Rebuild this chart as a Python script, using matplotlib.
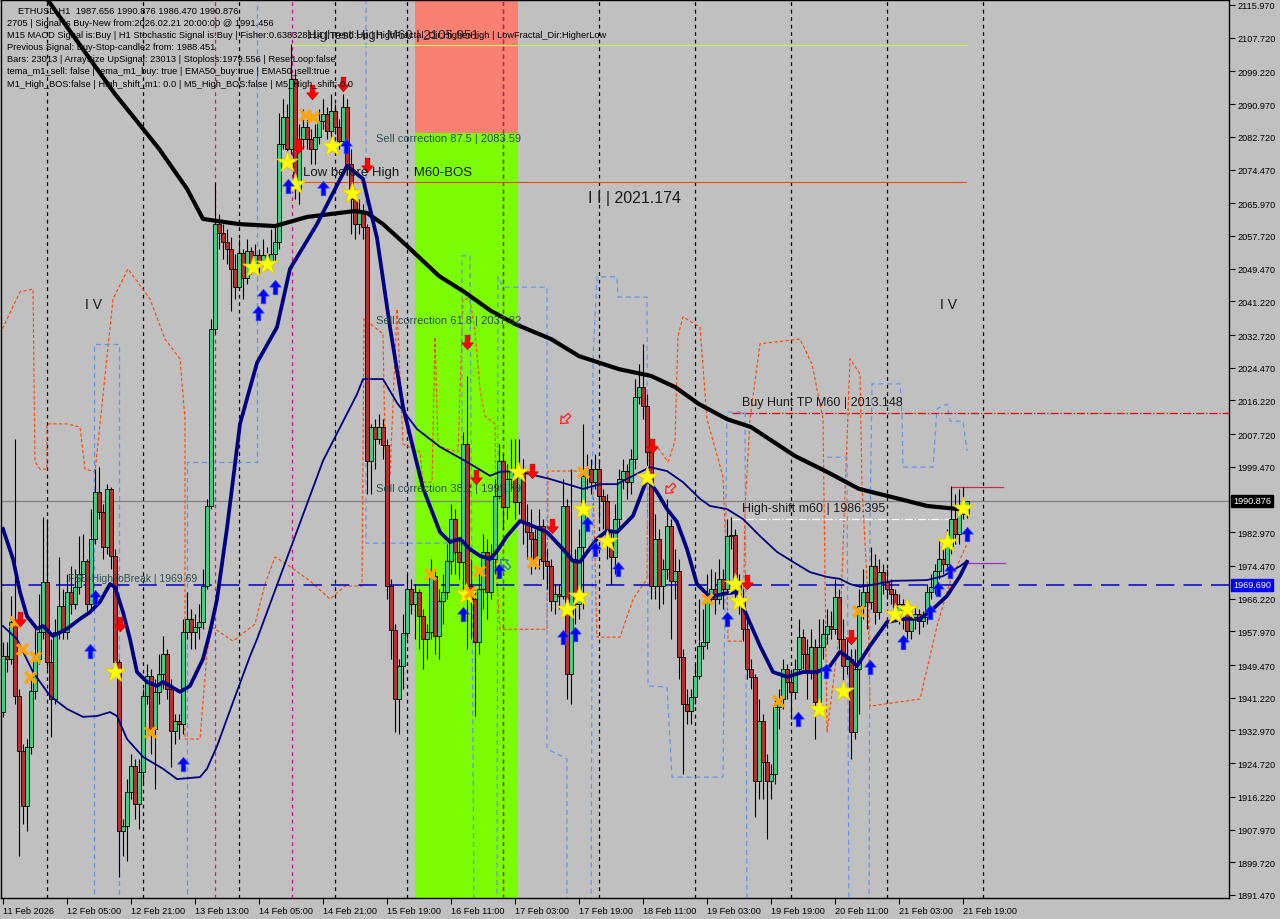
import numpy as np
import matplotlib.pyplot as plt
from matplotlib.path import Path
from matplotlib.patches import Rectangle
from matplotlib.transforms import blended_transform_factory

plt.rcParams['font.family'] = ['Liberation Sans', 'DejaVu Sans']

# ---- ETHUSD H1 bars, 11 Feb 13:00 -> 21 Feb 20:00 ----
first_open = 1937.6
last_open = 1987.656
closes = [
    1951.7, 1951.0, 1960.3, 1941.7, 1927.8, 1913.9, 1928.8, 1942.9, 1951.0, 1957.8,
    1970.4, 1950.2, 1940.9, 1957.8, 1964.4, 1957.8, 1967.9, 1964.8, 1969.1, 1972.4,
    1975.7, 1964.8, 1981.2, 1993.1, 1988.0, 1979.2, 1993.9, 1977.0, 1950.2, 1907.6,
    1908.9, 1917.4, 1924.0, 1914.4, 1922.5, 1941.7, 1946.7, 1933.3, 1942.6, 1947.2,
    1952.2, 1943.4, 1932.8, 1935.3, 1934.6, 1957.8, 1961.1, 1957.8, 1959.1, 1960.3,
    1969.4, 1989.6, 2034.2, 2060.7, 2058.5, 2056.2, 2054.4, 2049.4, 2044.8, 2053.4,
    2047.1, 2053.9, 2049.9, 2052.9, 2050.6, 2052.9, 2051.4, 2053.2, 2056.2, 2080.9,
    2087.7, 2079.7, 2097.3, 2069.6, 2082.2, 2085.2, 2082.2, 2079.7, 2082.7, 2086.7,
    2088.5, 2084.2, 2089.2, 2085.2, 2081.7, 2090.3, 2075.9, 2067.0, 2060.7, 2064.0,
    2060.0, 2001.0, 2009.5, 2006.5, 2009.5, 2005.0, 1969.4, 1958.3, 1940.9, 1949.2,
    1957.5, 1968.6, 1964.8, 1967.9, 1961.8, 1956.0, 1957.8, 1971.9, 1956.8, 1965.6,
    1967.9, 1975.7, 1986.3, 1978.0, 1975.5, 2005.2, 1969.4, 1966.1, 1955.3, 1968.6,
    1978.0, 1967.9, 1976.2, 1992.1, 2001.0, 1989.3, 1996.4, 1998.9, 1990.6, 1998.9,
    1985.5, 1983.0, 1981.2, 1976.2, 1984.5, 1975.7, 1974.4, 1965.6, 1967.4, 1966.9,
    1989.6, 1947.2, 1976.2, 1964.8, 1979.2, 1997.2, 1998.9, 1995.6, 1998.9, 1992.1,
    1990.8, 1980.5, 1976.7, 1986.3, 1996.4, 1998.4, 1995.6, 2001.4, 2017.1, 2019.6,
    2014.8, 2003.2, 1969.4, 1981.2, 1969.4, 1973.7, 1984.5, 1970.7, 1973.2, 1951.5,
    1939.6, 1937.9, 1941.4, 1946.7, 1954.3, 1955.3, 1966.1, 1968.6, 1966.1, 1971.2,
    1968.6, 1982.0, 1982.3, 1970.4, 1966.1, 1958.6, 1948.4, 1946.5, 1920.2, 1935.3,
    1925.0, 1920.2, 1922.0, 1938.9, 1940.9, 1948.4, 1945.2, 1942.6, 1948.4, 1956.5,
    1952.2, 1947.9, 1954.0, 1940.1, 1954.0, 1957.3, 1959.3, 1958.6, 1966.6, 1956.0,
    1949.2, 1951.0, 1932.6, 1948.4, 1964.4, 1967.9, 1965.4, 1974.4, 1962.8, 1972.9,
    1970.4, 1968.6, 1967.4, 1963.1, 1964.8, 1962.3, 1958.0, 1961.6, 1962.3, 1960.6,
    1961.6, 1967.9, 1969.1, 1973.2, 1976.2, 1974.9, 1979.5, 1986.3, 1982.5, 1987.6,
    1987.656, 1990.876,
]
highs = [
    1955.3, 1955.3, 1966.9, 2006.5, 1943.4, 1929.5, 1930.8, 1946.0, 1959.3, 1967.4,
    1986.8, 1986.3, 1956.0, 1961.1, 1976.7, 1968.6, 1972.4, 1974.4, 1973.7, 1982.0,
    1982.5, 1976.2, 1988.8, 1998.9, 1999.4, 1990.1, 1995.1, 1994.4, 1978.7, 1951.0,
    1910.6, 1920.7, 1927.0, 1925.8, 1925.8, 1943.4, 1949.7, 1948.4, 1946.0, 1952.2,
    1956.8, 1953.5, 1946.0, 1937.1, 1937.1, 1961.1, 1967.9, 1963.6, 1962.3, 1964.8,
    1973.7, 1991.4, 2036.8, 2071.3, 2063.3, 2060.7, 2059.5, 2057.5, 2053.2, 2057.0,
    2054.4, 2057.0, 2054.9, 2055.7, 2054.4, 2057.0, 2054.9, 2059.5, 2060.7, 2088.7,
    2092.3, 2091.0, 2106.1, 2099.8, 2086.0, 2089.7, 2087.2, 2084.7, 2086.0, 2089.7,
    2092.3, 2090.3, 2093.5, 2091.0, 2087.2, 2093.5, 2092.3, 2079.7, 2069.6, 2067.0,
    2065.8, 2060.7, 2010.3, 2011.5, 2012.8, 2011.5, 2006.5, 1971.2, 1959.8, 1951.0,
    1962.3, 1972.4, 1971.2, 1969.9, 1968.6, 1963.6, 1959.8, 1976.2, 1973.7, 1968.6,
    1972.4, 1980.0, 1990.1, 1988.8, 1981.2, 2008.3, 2022.4, 1976.2, 1968.6, 1973.7,
    1982.5, 1981.2, 1980.0, 1996.4, 2005.2, 2002.7, 2000.2, 2006.5, 2006.5, 2006.5,
    2001.4, 1990.1, 1988.8, 1983.8, 1988.8, 1986.3, 1978.7, 1976.2, 1969.9, 1969.9,
    1996.4, 1991.4, 1998.9, 1978.7, 1983.8, 2010.3, 2002.7, 2001.4, 2002.7, 2001.4,
    1993.9, 1992.6, 1983.8, 1990.1, 1998.9, 2001.4, 2000.2, 2004.0, 2021.6, 2025.4,
    2030.5, 2017.8, 2006.5, 1987.6, 1983.8, 1976.2, 1991.4, 1986.3, 1978.7, 1976.2,
    1953.5, 1943.4, 1943.4, 1949.7, 1966.1, 1963.6, 1972.4, 1973.7, 1972.9, 1976.2,
    1973.7, 1986.3, 1986.8, 1983.8, 1972.4, 1968.6, 1961.1, 1951.0, 1947.2, 1940.9,
    1937.1, 1927.0, 1924.5, 1940.9, 1943.4, 1951.0, 1949.7, 1947.2, 1951.0, 1961.1,
    1958.6, 1956.0, 1958.6, 1956.0, 1961.1, 1961.1, 1963.6, 1963.1, 1971.2, 1968.6,
    1961.1, 1956.0, 1953.5, 1953.5, 1968.6, 1973.7, 1969.9, 1979.2, 1977.5, 1976.2,
    1974.9, 1973.7, 1971.2, 1968.6, 1967.4, 1966.1, 1963.6, 1963.6, 1964.1, 1963.6,
    1963.1, 1969.9, 1972.4, 1974.9, 1981.2, 1978.7, 1983.8, 1994.6, 1992.6, 1993.9,
    1994.4, 1990.876,
]
lows = [
    1936.4, 1947.7, 1949.7, 1939.6, 1901.3, 1909.4, 1907.6, 1927.0, 1940.9, 1949.7,
    1956.0, 1948.4, 1931.3, 1939.6, 1956.0, 1956.0, 1956.0, 1962.3, 1963.6, 1967.4,
    1972.4, 1963.1, 1963.6, 1980.0, 1986.3, 1976.2, 1977.5, 1973.7, 1948.4, 1896.0,
    1901.3, 1900.0, 1915.7, 1910.6, 1908.1, 1919.4, 1939.6, 1927.0, 1918.2, 1939.6,
    1943.4, 1940.9, 1923.7, 1929.5, 1930.8, 1932.1, 1956.0, 1953.5, 1953.5, 1956.0,
    1958.6, 1968.6, 1988.8, 2033.0, 2054.4, 2051.9, 2050.6, 2038.8, 2041.8, 2044.3,
    2041.8, 2045.6, 2048.1, 2048.9, 2048.1, 2049.9, 2049.4, 2050.6, 2051.4, 2054.4,
    2079.7, 2077.1, 2078.4, 2067.0, 2065.8, 2079.7, 2079.7, 2075.9, 2075.9, 2080.9,
    2084.7, 2082.2, 2082.2, 2083.4, 2079.7, 2080.9, 2073.3, 2058.2, 2057.0, 2058.2,
    2057.0, 1992.6, 1992.6, 1998.9, 2005.2, 2001.4, 1966.1, 1951.0, 1932.6, 1932.1,
    1943.4, 1956.0, 1962.3, 1956.0, 1953.5, 1948.4, 1951.0, 1956.0, 1952.2, 1951.0,
    1959.8, 1966.1, 1972.4, 1972.4, 1971.2, 1968.6, 1953.5, 1956.0, 1936.6, 1952.2,
    1963.6, 1961.1, 1966.1, 1972.4, 1991.4, 1983.8, 1986.3, 1993.9, 1986.3, 1987.6,
    1980.0, 1976.2, 1972.4, 1973.7, 1973.7, 1971.2, 1968.6, 1963.1, 1962.3, 1963.6,
    1966.1, 1940.9, 1939.6, 1959.8, 1961.1, 1963.6, 1993.9, 1992.6, 1993.9, 1986.3,
    1983.8, 1976.2, 1969.9, 1972.4, 1983.8, 1993.9, 1991.4, 1992.6, 1998.9, 2015.3,
    2011.5, 1998.9, 1966.1, 1966.1, 1963.6, 1964.8, 1971.2, 1956.0, 1966.1, 1946.0,
    1922.0, 1934.6, 1934.6, 1939.6, 1946.0, 1951.0, 1953.5, 1964.8, 1962.3, 1964.8,
    1963.6, 1967.4, 1978.7, 1966.1, 1962.3, 1955.5, 1946.0, 1943.4, 1911.1, 1915.7,
    1915.7, 1905.6, 1915.7, 1919.4, 1933.3, 1938.4, 1940.9, 1935.8, 1940.9, 1947.2,
    1948.4, 1940.9, 1946.0, 1930.8, 1938.4, 1951.0, 1954.8, 1956.0, 1957.3, 1953.5,
    1943.4, 1947.2, 1925.8, 1930.8, 1937.1, 1961.1, 1958.6, 1963.6, 1959.8, 1961.1,
    1967.4, 1966.1, 1964.8, 1961.1, 1959.8, 1958.6, 1956.0, 1956.0, 1958.6, 1957.3,
    1959.1, 1959.8, 1966.1, 1967.4, 1971.2, 1972.4, 1973.7, 1977.5, 1980.0, 1980.0,
    1986.3, 1986.47,
]

date_labels = ["11 Feb 2026", "12 Feb 05:00", "12 Feb 21:00", "13 Feb 13:00", "14 Feb 05:00",
               "14 Feb 21:00", "15 Feb 19:00", "16 Feb 11:00", "17 Feb 03:00", "17 Feb 19:00",
               "18 Feb 11:00", "19 Feb 03:00", "19 Feb 19:00", "20 Feb 11:00", "21 Feb 03:00",
               "21 Feb 19:00"]
price_ticks = [2115.97, 2107.72, 2099.22, 2090.97, 2082.72, 2074.47, 2065.97, 2057.72, 2049.47,
               2041.22, 2032.72, 2024.47, 2016.22, 2007.72, 1999.47, 1982.97, 1974.47, 1966.22,
               1957.97, 1949.47, 1941.22, 1932.97, 1924.72, 1916.22, 1907.97, 1899.72, 1891.47]
day_breaks = [11, 35, 59, 83, 101, 125, 149, 173, 197, 221, 245]
magenta_breaks = [53, 72.25, 125]

# ---- moving averages (bar, price) ----
ma_slow_bar = [7, 11, 28, 32, 39, 46, 50, 59, 68, 76, 88, 91, 95, 101, 109, 115, 122, 128, 137, 144,
               154, 162, 168, 174, 181, 187, 198, 206, 214, 222, 231, 239]
ma_slow_val = [2123.5, 2117.5, 2093.5, 2088.5, 2079.7, 2069.6, 2062.0, 2060.7, 2060.2, 2062.5, 2064.0,
               2063.5, 2060.7, 2055.2, 2047.6, 2043.8, 2038.8, 2035.5, 2031.7, 2027.4, 2024.1, 2022.4,
               2019.6, 2015.3, 2011.5, 2009.5, 2002.2, 1998.2, 1993.9, 1991.9, 1989.6, 1988.8]

ma_fast_bar = [0, 2.5, 4.25, 6, 8.5, 10, 12.5, 16, 19.25, 21.75, 24.25, 26.75, 28, 30, 31.75, 33.5, 36,
               38.5, 40, 44.25, 46.75, 50, 51.75, 53.5, 56, 59.25, 63.5, 68.5, 71.75, 78.5, 86, 90,
               93.5, 96.75, 100, 105, 109.25, 111.75, 114.25, 116.75, 119.25, 121.75, 123.5, 126,
               129.25, 132.5, 136, 140, 142.5, 144.25, 148.5, 151, 153.5, 157.5, 161, 163.5, 166,
               168.5, 171, 173.5, 176.75, 180, 183.5, 186, 189.25, 192.5, 196, 200, 203.5, 206.75,
               209.25, 211.75, 213.5, 216.75, 221, 225, 229.25, 232.5, 236, 239.25, 241]
ma_fast_val = [1983.8, 1976.2, 1967.9, 1961.8, 1958.6, 1959.3, 1956.8, 1958.6, 1961.1, 1962.8, 1965.4,
               1969.9, 1969.1, 1962.8, 1956.0, 1947.7, 1945.2, 1944.2, 1945.2, 1942.7, 1944.2, 1951.0,
               1957.8, 1966.0, 1984.0, 2010.3, 2025.7, 2034.7, 2049.4, 2060.7, 2075.4, 2072.1, 2057.2,
               2034.7, 2014.6, 1994.1, 1983.0, 1980.5, 1981.3, 1978.7, 1977.0, 1976.2, 1978.2, 1982.0,
               1985.8, 1984.5, 1983.0, 1978.7, 1975.7, 1975.5, 1981.3, 1983.3, 1983.0, 1987.1, 1996.4,
               1993.1, 1988.8, 1985.6, 1978.7, 1969.9, 1966.6, 1967.4, 1967.9, 1961.8, 1954.3, 1947.7,
               1946.5, 1947.7, 1947.7, 1949.2, 1952.8, 1951.0, 1949.2, 1954.3, 1960.3, 1961.1, 1961.1,
               1963.6, 1966.9, 1971.9, 1975.5]

ma_mid_bar = [0, 3.5, 7.5, 11.75, 16, 20, 23.5, 26.75, 28.5, 31, 35, 40, 43.5, 49.25, 51, 53.5, 57.5,
              61.75, 63.5, 71.75, 80, 88.5, 90, 95, 98.5, 103.5, 109.25, 116, 121.75, 124.25, 128.5,
              136.75, 145, 149.25, 153.5, 157.5, 161.75, 166, 170, 174.25, 176.75, 181, 185, 189.25,
              193.5, 197.5, 201.75, 206, 209.25, 211.75, 214.25, 218.5, 222.5, 231, 235, 239.25, 241]
ma_mid_val = [1959.3, 1956.0, 1947.7, 1941.7, 1938.4, 1936.4, 1936.6, 1937.6, 1936.6, 1930.8, 1926.3,
              1923.3, 1920.7, 1921.2, 1923.3, 1929.0, 1940.1, 1951.7, 1956.0, 1978.5, 2001.0, 2017.8,
              2021.6, 2021.6, 2015.6, 2009.0, 2004.5, 2000.7, 1997.2, 1998.2, 1998.4, 1996.4, 1993.9,
              1995.1, 1995.1, 1997.2, 1999.4, 1998.4, 1995.6, 1991.4, 1989.6, 1988.8, 1986.3, 1982.0,
              1978.0, 1975.5, 1972.9, 1971.7, 1971.2, 1969.9, 1969.2, 1969.9, 1970.7, 1970.9, 1971.9,
              1974.4, 1975.7]

# ---- envelope (dashed) lines ----
orange_bar = [-0.75, 4.25, 7.5, 8, 9.25, 11, 11, 16, 19.25, 20.5, 23, 27.5, 31.25, 36.75, 40.5, 44.25,
              45.5, 45.5, 49.25, 51, 52.25, 57.5, 63, 65.5, 68, 70.5, 76.75, 81.75, 85.5, 89.75, 90.25,
              95, 95.5, 96.75, 98.5, 100, 104.25, 105, 107.25, 108, 108.75, 113.75, 115, 116.75, 118,
              119.25, 120.5, 123, 123.5, 124.25, 136, 136.25, 144.75, 147.5, 148.5, 154.25, 157.5, 161,
              161.25, 163.5, 166.25, 168, 168.75, 170, 174.25, 176, 179.25, 180, 181, 181.25, 185, 185.5,
              186.75, 189.25, 199.25, 202.25, 205, 206, 209.25, 211.75, 214.25, 214.75, 216.25, 216.75,
              229.25, 233.5, 236.75, 241]
orange_val = [2033.0, 2043.6, 2044.3, 2000.7, 1998.9, 1998.9, 2010.3, 2010.3, 2009.5, 1998.9, 1998.2,
              2041.8, 2049.4, 2041.8, 2031.7, 2026.7, 2011.5, 1930.8, 1930.8, 1952.7, 1959.1, 1955.5,
              1959.8, 1969.9, 1976.7, 1975.2, 1970.7, 1966.1, 1969.4, 1969.4, 2036.8, 2033.0, 2004.0,
              1997.7, 2039.3, 2005.2, 2003.2, 1995.6, 1995.6, 2032.2, 2004.7, 2003.2, 2041.8, 2041.8,
              2033.7, 2019.1, 2012.3, 2010.3, 1970.4, 1958.5, 1958.5, 1998.4, 1998.4, 1995.6, 1956.5,
              1956.5, 1966.1, 1971.2, 2004.7, 2004.7, 2000.7, 2006.0, 2032.5, 2037.3, 2034.7, 2011.5,
              1999.7, 1996.9, 1971.9, 1955.5, 1955.5, 1988.8, 2011.5, 2030.5, 2031.7, 2025.4, 2011.5,
              1932.6, 1958.5, 2026.7, 2022.9, 1994.6, 1966.1, 1939.1, 1940.9, 1959.3, 1970.4, 1980.0]

blue1_bar = [22.75, 22.75, 29, 29]
blue1_val = [1885.0, 2030.5, 2030.5, 1885.0]
blue2_bar = [46, 46, 63.5, 63.5]
blue2_val = [1885.0, 2000.7, 2000.7, 2125.0]
blue3_bar = [90.75, 90.75, 112.5, 114.75, 114.75, 116.75, 117.75]
blue3_val = [2125.0, 1980.2, 1980.2, 1980.0, 2052.7, 2052.7, 1885.0]
blue4_bar = [123.5, 123.75, 125, 136, 136, 141, 141]
blue4_val = [1885.0, 2047.4, 2044.8, 2044.8, 1928.3, 1925.8, 1885.0]
blue5_bar = [147, 147.5, 148.5, 153.5, 153.75, 161, 161.25, 166, 167.25, 180, 181, 185.5, 186]
blue5_val = [1885.0, 2026.7, 2047.4, 2047.4, 2042.3, 2042.3, 1944.2, 1943.9, 1921.2, 1921.2, 2013.3,
             2013.3, 1885.0]
blue6_bar = [206, 211, 211.5]
blue6_val = [2001.9, 2001.9, 1885.0]
blue7_bar = [216.5, 216.75, 217.25, 224.25, 224.75, 225, 232.5, 233.5, 236, 236.75, 240, 241]
blue7_val = [1885.0, 1983.8, 2020.4, 2020.4, 2012.3, 1999.4, 1999.4, 2014.1, 2015.3, 2011.0, 2011.0,
             2003.5]

# ---- signal markers (bar, price) ----
star_bar = [28, 71, 73, 62.5, 66, 82.25, 87.25, 115.75, 128.75, 145, 151, 144, 141, 161, 183, 184,
            210, 204, 223, 226, 236, 240]
star_val = [1947.7, 2076.4, 2070.8, 2049.9, 2050.6, 2080.4, 2068.6, 1967.4, 1998.2, 1988.8, 1980.7,
            1966.9, 1963.6, 1996.9, 1969.9, 1965.6, 1942.9, 1938.4, 1962.3, 1963.6, 1980.5, 1989.1]
cross_bar = [3, 4.75, 8, 6.75, 36.75, 75.5, 77.5, 106.75, 119, 132.5, 145, 116.75, 176, 193.75, 213.75]
cross_val = [1960.3, 1953.5, 1951.5, 1946.4, 1932.6, 2088.2, 2087.7, 1972.4, 1973.2, 1975.5, 1998.2,
             1967.9, 1966.1, 1940.4, 1963.1]
buy_bar = [21.75, 23, 45, 63.75, 65, 68, 71.25, 80, 85.75, 115, 124, 140, 143, 146, 148, 153.75, 181,
           198.75, 205.75, 216.75, 225, 231.75, 233.75, 236.75, 241]
buy_val = [1953.0, 1966.6, 1924.5, 2038.3, 2042.6, 2044.8, 2070.3, 2069.8, 2080.4, 1962.3, 1973.2,
           1956.5, 1957.3, 1985.0, 1978.7, 1973.7, 1961.1, 1935.8, 1947.9, 1948.9, 1955.3, 1962.8,
           1968.6, 1973.2, 1982.5]
sell_bar = [4.25, 29.25, 77.25, 85, 73.75, 91, 116, 118.25, 132.25, 137.25, 162.25, 186, 212]
sell_val = [1961.1, 1959.8, 2094.0, 2096.1, 2080.4, 2075.6, 2031.0, 1996.9, 1998.4, 1984.5, 2004.7,
            1970.4, 1956.5]
hollow_sell_bar = [140.5, 166.75]
hollow_sell_val = [2011.5, 1993.9]
hollow_buy_bar = [125.5]
hollow_buy_val = [1975.0]

# ---- levels ----
current_price = 1990.876
fsb_level = 1969.69
highest_high = 2105.951
sell_corr_875 = 2083.59
buy_tp = 2013.148
high_shift = 1986.395
bos_level = 2071.3
stop_level = 1994.4
entry_level = 1975.2

info_lines = [
    "ETHUSD,H1  1987.656 1990.876 1986.470 1990.876",
    "2705 | Signal is Buy-New from:2026.02.21 20:00:00 @ 1991.456",
    "M15 MACD Signal is:Buy | H1 Stochastic Signal is:Buy | Fisher:0.638328114 | Trend:Up | HighFractal_Dir:HigherHigh | LowFractal_Dir:HigherLow",
    "Previous Signal: Buy-Stop-candle2 from: 1988.451",
    "Bars: 23013 | ArraySize UpSignal: 23013 | Stoploss:1979.556 | ResetLoop:false",
    "tema_m1_sell: false | tema_m1_buy: true | EMA50_buy:true | EMA50_sell:true",
    "M1_High_BOS:false | High_shift_m1: 0.0 | M5_High_BOS:false | M5_High_shift: 0.0",
]

BG = '#c0c0c0'
GREEN = '#3ccf86'
RED = '#b8302e'

fig = plt.figure(figsize=(12.8, 9.2), dpi=100, facecolor=BG)
ax = fig.add_axes([1 / 1280, 21 / 920, 1228 / 1280, 898 / 920], facecolor=BG)
ax.set_xlim(-0.5, 306.5)
ax.set_ylim(1890.70, 2117.23)

# zone rectangles
ax.add_patch(Rectangle((103, sell_corr_875), 25.75, 40, facecolor='#fa8072', edgecolor='none', zorder=0.5))
ax.add_patch(Rectangle((103, 1880), 25.75, sell_corr_875 - 1880, facecolor='#7cfc00', edgecolor='none', zorder=0.5))

# vertical separators
for b in day_breaks:
    ax.axvline(b, color='black', lw=0.9, ls=(0, (3, 3)), zorder=1)
for b in magenta_breaks:
    ax.axvline(b, color='#c71585', lw=0.9, ls=(0, (3, 3)), zorder=1)

# envelope lines
ax.plot(orange_bar, orange_val, color='#ff4500', lw=0.8, ls=(0, (3, 2)), zorder=2)
for bb, vv in [(blue1_bar, blue1_val), (blue2_bar, blue2_val), (blue3_bar, blue3_val),
               (blue4_bar, blue4_val), (blue5_bar, blue5_val), (blue6_bar, blue6_val),
               (blue7_bar, blue7_val)]:
    ax.plot(bb, vv, color='#6495ed', lw=0.9, ls=(0, (4, 3)), zorder=2)

# horizontal levels
ax.axhline(current_price, color='#808080', lw=0.9, zorder=2)
ax.axhline(fsb_level, color='#0000cd', lw=1.1, ls=(0, (12, 6)), zorder=2)
ax.plot([71.75, 241], [highest_high, highest_high], color='#c8f060', lw=0.8, zorder=2)
ax.plot([71.25, 240.75], [bos_level, bos_level], color='#ff4500', lw=0.8, zorder=2)
ax.plot([182.25, 306.5], [buy_tp, buy_tp], color='#e00000', lw=0.9, ls='-.', zorder=2)
ax.plot([182.25, 238.5], [high_shift, high_shift], color='white', lw=0.9, ls='-.', zorder=2)
ax.plot([237, 250], [stop_level, stop_level], color='#c0304a', lw=0.9, zorder=2)
ax.plot([241, 250.5], [entry_level, entry_level], color='#9932cc', lw=0.9, zorder=2)

# candles
n = len(closes)
xs = np.arange(n)
c = np.array(closes)
o = np.concatenate([[first_open], c[:-1]])
o[-1] = last_open
h = np.maximum(np.array(highs), np.maximum(o, c))
l = np.minimum(np.array(lows), np.minimum(o, c))
ax.vlines(xs, l, h, color='black', lw=0.8, zorder=3)
up = c >= o
body = np.maximum(np.abs(c - o), 0.35)
ax.bar(xs[up], body[up], bottom=o[up], width=0.8, color=GREEN, edgecolor='black', linewidth=0.6, zorder=3.5)
ax.bar(xs[~up], body[~up], bottom=c[~up], width=0.8, color=RED, edgecolor='black', linewidth=0.6, zorder=3.5)

# moving averages
ax.plot(ma_slow_bar, ma_slow_val, color='black', lw=3.0, zorder=4, solid_capstyle='round')
ax.plot(ma_mid_bar, ma_mid_val, color='#000080', lw=1.3, zorder=4)
ax.plot(ma_fast_bar, ma_fast_val, color='#000080', lw=2.7, zorder=4.2)

# markers
arrow_up = Path([(0, 1), (0.8, 0.05), (0.32, 0.05), (0.32, -1), (-0.32, -1), (-0.32, 0.05), (-0.8, 0.05), (0, 1)],
                [Path.MOVETO] + [Path.LINETO] * 6 + [Path.CLOSEPOLY])
arrow_dn = Path(arrow_up.vertices * np.array([1, -1]), arrow_up.codes)


def rotated(path, deg):
    t = np.radians(deg)
    rot = np.array([[np.cos(t), np.sin(t)], [-np.sin(t), np.cos(t)]])
    return Path(path.vertices @ rot, path.codes)


ax.scatter(star_bar, star_val, marker='*', s=260, color='#ffff00', edgecolors='#e6c800', linewidths=0.6, zorder=5)
ax.scatter(cross_bar, cross_val, marker='x', s=60, color='#ffa500', linewidths=2.6, zorder=5)
ax.scatter(buy_bar, buy_val, marker=arrow_up, s=110, color='#0000ff', edgecolors='#3050ff', linewidths=0.5, zorder=5.2)
ax.scatter(sell_bar, sell_val, marker=arrow_dn, s=110, color='#ff0000', edgecolors='#d00000', linewidths=0.5, zorder=5.2)
ax.scatter(hollow_sell_bar, hollow_sell_val, marker=rotated(arrow_up, 135), s=70, facecolors='none',
           edgecolors='#ff2020', linewidths=0.9, zorder=5)
ax.scatter(hollow_buy_bar, hollow_buy_val, marker=rotated(arrow_up, 45), s=70, facecolors='none',
           edgecolors='#3070d0', linewidths=0.9, zorder=5)

# level labels
ax.text(76, 2108.4, "Highest High M60 | 2105.951", fontsize=9.5, color='#2a2a2a', va='center', zorder=6)
ax.text(93.25, 2082.4, "Sell correction 87.5 | 2083.59", fontsize=8, color='#2f4f4f', va='center', zorder=6)
ax.text(93.25, 2036.5, "Sell correction 61.8 | 2037.82", fontsize=8, color='#2f4f4f', va='center', zorder=6)
ax.text(93.25, 1994.1, "Sell correction 38.2 | 1995.79", fontsize=8, color='#2f4f4f', va='center', zorder=6)
ax.text(75, 2073.8, "Low before High    M60-BOS", fontsize=9.5, color='#1a1a1a', va='center', zorder=6)
ax.text(146.25, 2067.5, "I I | 2021.174", fontsize=11.5, color='#1a1a1a', va='center', zorder=6)
ax.text(20.5, 2040.5, "I V", fontsize=10, color='#1a1a1a', va='center', zorder=6)
ax.text(234.25, 2040.5, "I V", fontsize=10, color='#1a1a1a', va='center', zorder=6)
ax.text(184.75, 2015.8, "Buy Hunt TP M60 | 2013.148", fontsize=9, color='#1a1a1a', va='center', zorder=6)
ax.text(184.75, 1989.1, "High-shift m60 | 1986.395", fontsize=9, color='#1a1a1a', va='center', zorder=6)
ax.text(16.25, 1971.4, "FSB-HighToBreak | 1969.69", fontsize=7.5, color='#2f4f4f', va='center', zorder=6)

# info block
for k, line in enumerate(info_lines):
    x0 = 18 if k == 0 else 7
    fig.text(x0 / 1280, 1 - (11 + 12.2 * k) / 920, line, fontsize=6.7, color='black', va='center', zorder=7)

# axes styling
ax.yaxis.tick_right()
ax.set_yticks(price_ticks)
ax.set_yticklabels([f"{v:.3f}" for v in price_ticks])
ax.tick_params(axis='y', length=4, width=0.8, pad=2, labelsize=6.6, colors='black')
ax.set_xticks(np.arange(0, 241, 16))
ax.set_xticklabels(date_labels)
ax.tick_params(axis='x', length=4, width=0.8, pad=2, labelsize=6.6, colors='black')
for lbl in ax.get_xticklabels():
    lbl.set_horizontalalignment('left')
for sp in ax.spines.values():
    sp.set_color('black')
    sp.set_linewidth(1.0)

trans = blended_transform_factory(ax.transAxes, ax.transData)
ax.text(1.0035, current_price, "1990.876", transform=trans, ha='left', va='center', fontsize=6.6,
        color='white', clip_on=False, zorder=10,
        bbox=dict(boxstyle='square,pad=0.2', facecolor='black', edgecolor='black'))
ax.text(1.0035, fsb_level, "1969.690", transform=trans, ha='left', va='center', fontsize=6.6,
        color='white', clip_on=False, zorder=10,
        bbox=dict(boxstyle='square,pad=0.2', facecolor='#0000ff', edgecolor='#0000ff'))

fig.savefig('out.png', dpi=100, facecolor=BG)
